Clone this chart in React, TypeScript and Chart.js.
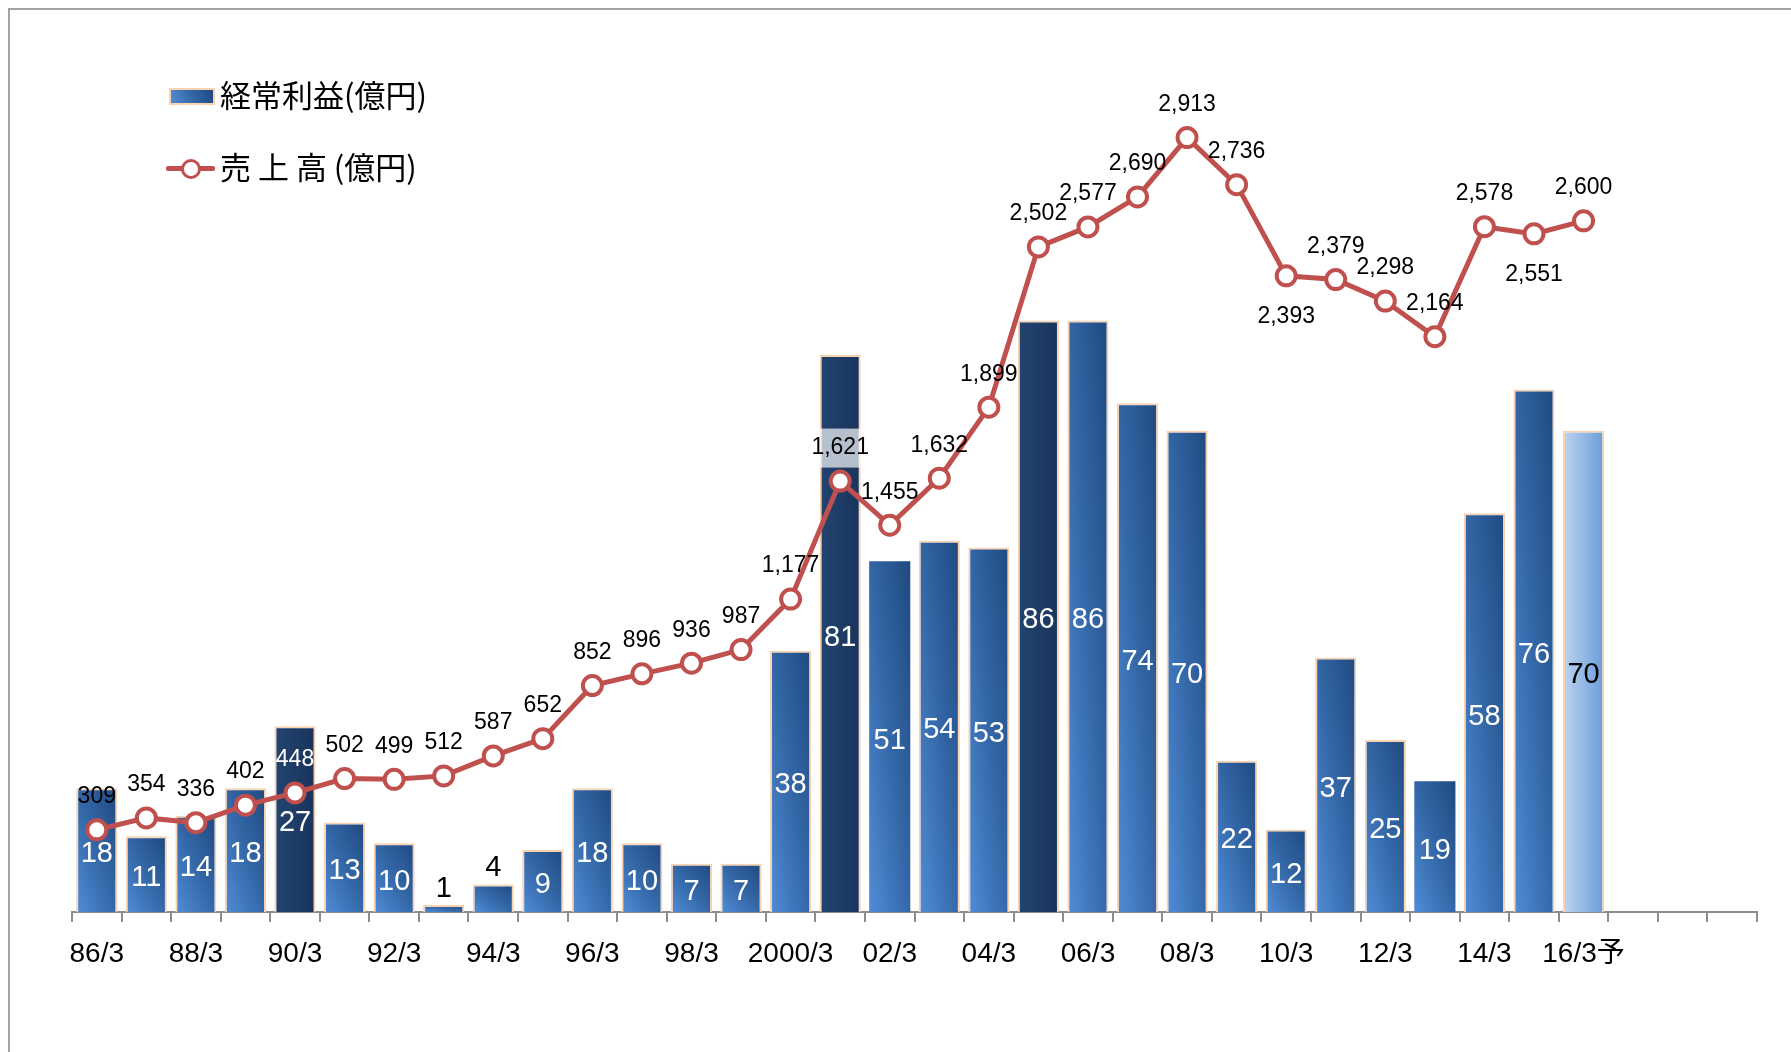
import React, { useEffect, useRef } from 'react';
import { Chart, registerables } from 'chart.js';

Chart.register(...registerables);

// ---- data ----
const categories = ['86/3', '87/3', '88/3', '89/3', '90/3', '91/3', '92/3', '93/3', '94/3', '95/3', '96/3', '97/3', '98/3', '99/3', '2000/3', '01/3', '02/3', '03/3', '04/3', '05/3', '06/3', '07/3', '08/3', '09/3', '10/3', '11/3', '12/3', '13/3', '14/3', '15/3', '16/3予'];
const emptySlots = ['', '', ''];
const ordinaryProfit = [18, 11, 14, 18, 27, 13, 10, 1, 4, 9, 18, 10, 7, 7, 38, 81, 51, 54, 53, 86, 86, 74, 70, 22, 12, 37, 25, 19, 58, 76, 70];
const sales = [309, 354, 336, 402, 448, 502, 499, 512, 587, 652, 852, 896, 936, 987, 1177, 1621, 1455, 1632, 1899, 2502, 2577, 2690, 2913, 2736, 2393, 2379, 2298, 2164, 2578, 2551, 2600];
const barLegend = '経常利益(億円)';
const lineLegend = '売 上 高 (億円)';

// ---- styling (by index) ----
const darkBars = [4, 15, 19];
const forecastBar = 30;
const noOutlineBars = [16, 27];
const barLabelAbove = [7, 8];
const barLabelBlack = [7, 8, 30];
const lineLabelBelow = [24, 29];
const lineLabelWhite = [4];
const lineLabelBoxed = [15];

const RED = '#c0504d';
const AXIS = '#8c8c8c';
const PEACH = '#f9d2b2';
const FONT = "'Liberation Sans', Arial, 'Noto Sans CJK JP', sans-serif";
const BAR_PCT = 0.83;

function barFill(context: any) {
  const chart = context.chart;
  const { ctx, chartArea, scales } = chart;
  const i = context.dataIndex;
  if (!chartArea || !scales.x || !scales.y) return '#3466a6';
  const xs = scales.x;
  const ys = scales.y;
  const slot = xs.getPixelForValue(1) - xs.getPixelForValue(0);
  const half = (slot * BAR_PCT) / 2;
  const cx = xs.getPixelForValue(i);
  const top = ys.getPixelForValue(context.raw);
  const bottom = ys.getPixelForValue(0);
  const x0 = cx - half;
  const x1 = cx + half;
  if (darkBars.includes(i)) {
    const g = ctx.createLinearGradient(x0, 0, x1, 0);
    g.addColorStop(0, '#224470');
    g.addColorStop(1, '#1a345b');
    return g;
  }
  if (i === forecastBar) {
    const g = ctx.createLinearGradient(x0, 0, x1, 0);
    g.addColorStop(0, '#bed4f0');
    g.addColorStop(1, '#699dda');
    return g;
  }
  const w = x1 - x0;
  const h = Math.max(bottom - top, 1);
  const f = (2 * w * h) / (w * w + h * h);
  const g = ctx.createLinearGradient(x0, bottom, x0 + h * f, bottom - w * f);
  g.addColorStop(0, '#508dd7');
  g.addColorStop(0.5, '#3467a7');
  g.addColorStop(1, '#1f4980');
  return g;
}

const labelPlugin = {
  id: 'valueLabels',
  afterDatasetsDraw(chart: any) {
    const ctx = chart.ctx;
    const lineMeta = chart.getDatasetMeta(0);
    const barMeta = chart.getDatasetMeta(1);
    ctx.save();
    ctx.textAlign = 'center';
    ctx.textBaseline = 'middle';
    // bar labels
    ctx.font = `29px ${FONT}`;
    barMeta.data.forEach((el: any, i: number) => {
      const { x, y, base } = el.getProps(['x', 'y', 'base'], true);
      let ty = (y + base) / 2 + 4;
      if (barLabelAbove.includes(i)) ty = y - 16;
      ctx.fillStyle = barLabelBlack.includes(i) ? '#000' : '#fff';
      ctx.fillText(String(ordinaryProfit[i]), x, ty);
    });
    // line labels
    ctx.font = `23px ${FONT}`;
    lineMeta.data.forEach((el: any, i: number) => {
      const { x, y } = el.getProps(['x', 'y'], true);
      const ty = lineLabelBelow.includes(i) ? y + 41 : y - 33;
      const txt = sales[i].toLocaleString('en-US');
      if (lineLabelBoxed.includes(i)) {
        const bar = barMeta.data[i];
        const bw = bar.getProps(['width'], true).width;
        ctx.fillStyle = 'rgba(255,255,255,0.68)';
        ctx.fillRect(bar.x - bw / 2, ty - 19.5, bw, 39);
      }
      ctx.fillStyle = lineLabelWhite.includes(i) ? '#fff' : '#000';
      ctx.fillText(txt, x, ty);
    });
    ctx.restore();
  },
};

export default function App() {
  const canvasRef = useRef<HTMLCanvasElement | null>(null);

  useEffect(() => {
    const canvas = canvasRef.current;
    if (!canvas) return;
    Chart.defaults.font.family = FONT;
    const chart = new Chart(canvas, {
      type: 'bar',
      data: {
        labels: [...categories, ...emptySlots],
        datasets: [
          {
            type: 'line',
            label: lineLegend,
            data: sales,
            yAxisID: 'y1',
            borderColor: RED,
            borderWidth: 5,
            pointRadius: 9.5,
            pointBorderWidth: 4,
            pointBackgroundColor: '#ffffff',
            pointBorderColor: RED,
            tension: 0,
            order: 0,
          } as any,
          {
            type: 'bar',
            label: barLegend,
            data: ordinaryProfit,
            yAxisID: 'y',
            backgroundColor: barFill,
            borderColor: PEACH,
            borderWidth: (c: any) => (noOutlineBars.includes(c.dataIndex) ? 0 : 2),
            borderSkipped: 'start',
            barPercentage: BAR_PCT,
            categoryPercentage: 1,
            order: 1,
          } as any,
        ],
      },
      options: {
        responsive: false,
        animation: false,
        events: [],
        devicePixelRatio: 1,
        layout: { padding: { left: 72, right: 34, top: 60, bottom: 40 } },
        plugins: { legend: { display: false }, tooltip: { enabled: false } },
        scales: {
          x: {
            type: 'category',
            offset: true,
            grid: {
              offset: true,
              drawOnChartArea: false,
              drawTicks: true,
              tickLength: 10,
              color: AXIS,
              lineWidth: 2,
            },
            border: { display: true, color: AXIS, width: 2 },
            ticks: {
              autoSkip: false,
              maxRotation: 0,
              minRotation: 0,
              padding: 15,
              color: '#000',
              font: { family: FONT, size: 28 },
              callback: function (this: any, value: any, index: number) {
                return index % 2 === 0 ? this.getLabelForValue(value) : '';
              },
            },
            afterFit: (s: any) => {
              s.height = 100;
            },
          },
          y: { display: false, min: 0, max: 123.9 },
          y1: { display: false, min: 0, max: 3205, position: 'right' },
        },
      } as any,
      plugins: [labelPlugin],
    });
    return () => chart.destroy();
  }, []);

  const legendText: React.CSSProperties = {
    position: 'absolute',
    left: 220,
    fontFamily: "'Noto Sans CJK JP', sans-serif",
    fontSize: 31,
    lineHeight: '36px',
    color: '#000',
    whiteSpace: 'pre',
  };

  return (
    <div style={{ position: 'fixed', left: 0, top: 0, width: 1791, height: 1052, background: '#fff', overflow: 'hidden' }}>
      <div
        style={{
          position: 'absolute',
          left: 8,
          top: 8,
          width: 1783,
          height: 1044,
          borderTop: '2px solid #a3a3a3',
          borderLeft: '2px solid #a3a3a3',
          boxSizing: 'border-box',
        }}
      />
      <canvas ref={canvasRef} width={1791} height={1052} style={{ position: 'absolute', left: 0, top: 0, width: 1791, height: 1052 }} />
      {/* legend */}
      <div
        style={{
          position: 'absolute',
          left: 169,
          top: 88,
          width: 46,
          height: 17,
          boxSizing: 'border-box',
          border: `2px solid ${PEACH}`,
          background: 'linear-gradient(70deg, #508dd7 0%, #3467a7 50%, #1f4980 100%)',
        }}
      />
      <div style={{ ...legendText, top: 94 - 18 }}>{barLegend}</div>
      <div style={{ position: 'absolute', left: 166, top: 166, width: 49, height: 5, background: RED, borderRadius: 2 }} />
      <div
        style={{
          position: 'absolute',
          left: 191 - 10,
          top: 168.5 - 10,
          width: 20,
          height: 20,
          boxSizing: 'border-box',
          borderRadius: '50%',
          border: `3.5px solid ${RED}`,
          background: '#fff',
        }}
      />
      <div style={{ ...legendText, top: 166 - 18 }}>{lineLegend}</div>
    </div>
  );
}
